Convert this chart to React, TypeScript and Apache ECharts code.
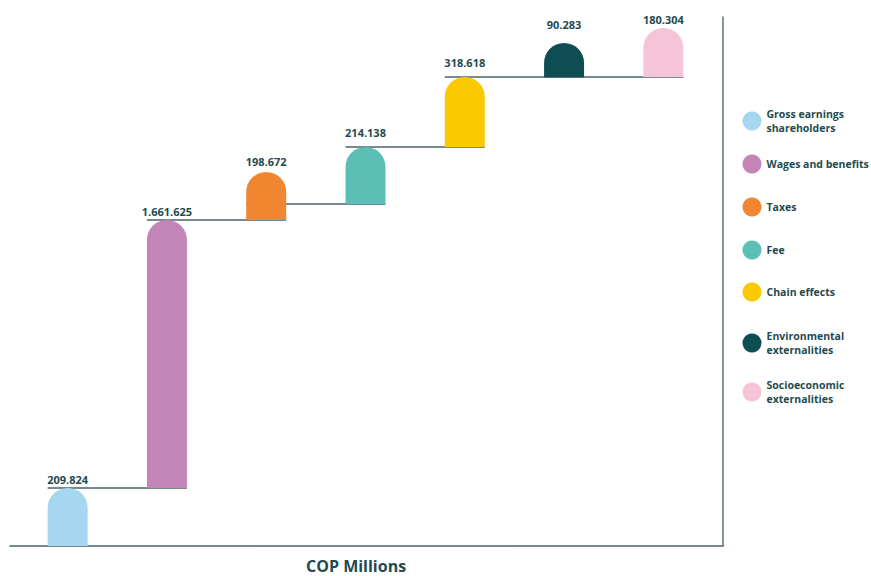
import React, { useEffect, useRef } from "react";
import * as echarts from "echarts";

// Categories (legend names)
const categories = [
  "Gross earnings shareholders",
  "Wages and benefits",
  "Taxes",
  "Fee",
  "Chain effects",
  "Environmental externalities",
  "Socioeconomic externalities",
];
const legendText = [
  "Gross earnings\nshareholders",
  "Wages and benefits",
  "Taxes",
  "Fee",
  "Chain effects",
  "Environmental\nexternalities",
  "Socioeconomic\nexternalities",
];
// Printed values (COP millions)
const valueLabels = ["209.824", "1.661.625", "198.672", "214.138", "318.618", "90.283", "180.304"];
// Stylised (not to scale) bar geometry
const barBase = [0, 58, 326, 342, 399, 469, 469];
const barHeight = [58, 268, 48, 57, 70, 34, 49];

const colors = ["#a6d7f1", "#c384b8", "#f0862f", "#5bbfb5", "#fcc800", "#0e4d52", "#f6c4d8"];
const TEXT = "#1f4a50";
const LINE = "#4a6469";
const labelDist = [3, 3, 5, 9, 9, 13, 3];
const legendTops = [107, 154.5, 197.5, 240.5, 282.5, 329, 378];

export default function App() {
  const ref = useRef<HTMLDivElement>(null);
  useEffect(() => {
    document.body.style.margin = "0";
    if (!ref.current) return;
    const chart = echarts.init(ref.current, undefined, { renderer: "svg" });
    const series: any[] = [
      {
        name: "base",
        type: "bar",
        stack: "w",
        barWidth: 40,
        itemStyle: { color: "transparent" },
        data: barBase,
        silent: true,
        z: 2,
      },
      ...categories.map((name, i) => ({
        name,
        type: "bar",
        stack: "w",
        barWidth: 40,
        z: 3,
        itemStyle: { color: colors[i], borderRadius: [20, 20, 0, 0] },
        label: {
          show: true,
          position: "top",
          distance: labelDist[i],
          formatter: () => valueLabels[i],
          color: TEXT,
          fontFamily: "Open Sans",
          fontWeight: "bold",
          fontSize: 11,
        },
        data: categories.map((_, j) => (j === i ? barHeight[i] : "-")),
      })),
      {
        name: "connectors",
        type: "custom",
        z: 1,
        silent: true,
        encode: { x: 0, y: 1 },
        data: barBase.slice(1).map((b, k) => [k + 1, b]),
        renderItem: (_params: any, api: any) => {
          const i = api.value(0);
          const y = api.value(1);
          const p = api.coord([i, y]);
          const q = api.coord([i - 1, y]);
          return {
            type: "line",
            shape: { x1: q[0] - 20, y1: p[1], x2: p[0] + 20, y2: p[1] },
            style: { stroke: LINE, lineWidth: 1.5 },
          };
        },
      },
    ];
    const legends = categories.map((name, i) => ({
      data: [name],
      orient: "vertical",
      left: 742.5,
      top: legendTops[i],
      padding: 0,
      icon: "circle",
      itemWidth: 19,
      itemHeight: 19,
      itemGap: 6,
      formatter: () => legendText[i],
      textStyle: {
        color: TEXT,
        fontFamily: "Open Sans",
        fontWeight: "bold",
        fontSize: 10.5,
        lineHeight: 14,
      },
    }));
    chart.setOption({
      animation: false,
      backgroundColor: "#ffffff",
      title: {
        text: "COP Millions",
        left: 306,
        top: 558,
        padding: 0,
        textStyle: { color: TEXT, fontFamily: "Open Sans", fontWeight: "bold", fontSize: 16 },
      },
      legend: legends,
      grid: [
        { left: 18, right: 158, top: 17, bottom: 30 },
        { left: 10, right: 148, top: 17, bottom: 30 },
      ],
      xAxis: [
        {
          type: "category",
          gridIndex: 0,
          data: categories,
          show: false,
        },
        {
          type: "value",
          gridIndex: 1,
          min: 0,
          max: 1,
          position: "bottom",
          axisLine: { show: true, onZero: false, lineStyle: { color: LINE, width: 1.5 } },
          axisTick: { show: false },
          axisLabel: { show: false },
          splitLine: { show: false },
        },
      ],
      yAxis: [
        { type: "value", gridIndex: 0, min: 0, max: 529, show: false },
        {
          type: "value",
          gridIndex: 1,
          position: "right",
          min: 0,
          max: 1,
          axisLine: { show: true, onZero: false, lineStyle: { color: "#5d7479", width: 1.5 } },
          axisTick: { show: false },
          axisLabel: { show: false },
          splitLine: { show: false },
        },
      ],
      series,
    });
    return () => chart.dispose();
  }, []);
  return <div ref={ref} style={{ width: 871, height: 576 }} />;
}
